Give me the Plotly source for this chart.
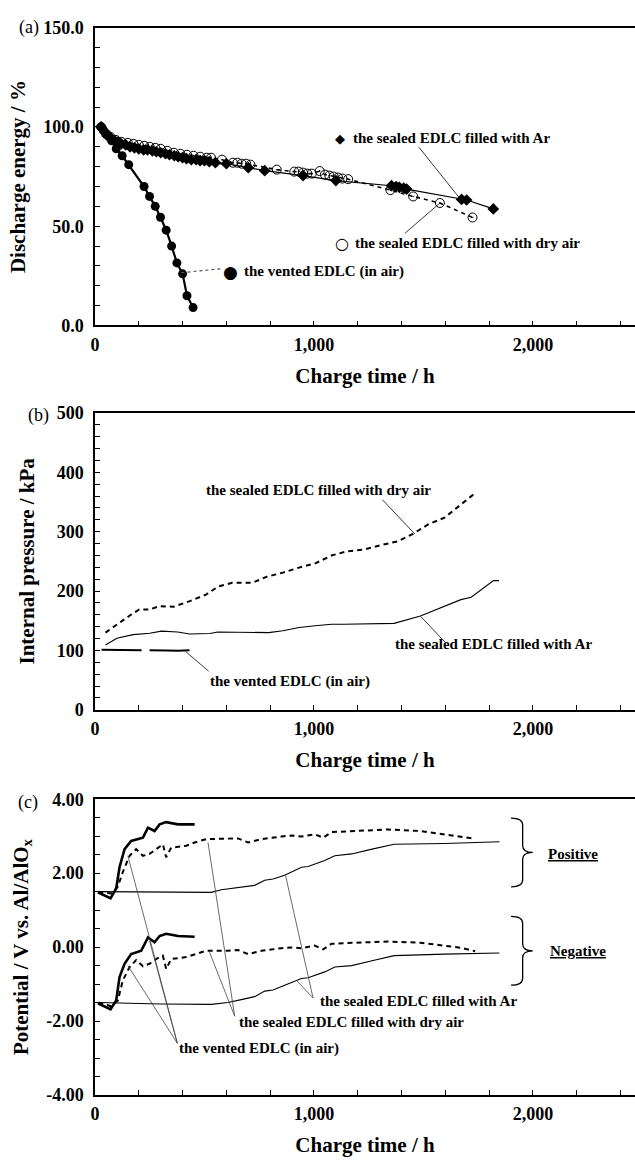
import plotly.graph_objects as go

FONT = "Liberation Serif"

# ---------------- Panel (a): discharge energy ----------------
a_vent_h = [28, 40, 52, 64, 76, 97, 124, 154, 224, 249, 275, 299, 325, 350, 374, 400, 420, 448]
a_vent_v = [100, 98, 96.5, 95, 93, 89, 85.5, 81, 70, 65, 60, 54.5, 48, 40, 31.5, 26, 15, 9]

a_ar_h = [28, 45, 60, 75, 90, 105, 120, 140, 160, 180, 200, 222, 240, 262, 280, 300, 322, 340, 362, 380,
          400, 418, 440, 462, 480, 500, 522, 550, 600, 700, 775, 950, 1100, 1354, 1375, 1390, 1410, 1423,
          1674, 1697, 1819]
a_ar_v = [100, 97.5, 95.5, 94, 93, 92.5, 91.5, 91, 90, 89.5, 89, 88.5, 88.5, 88, 87.5, 87, 86.5, 86, 85.5, 85,
          84.5, 84, 83.5, 83.5, 83, 83, 82.5, 82, 81.5, 79.5, 78, 75.5, 73, 70.4, 70, 69.6, 69.2, 68.7,
          63.5, 63.2, 58.7]

a_air_h = [28, 50, 70, 95, 120, 150, 175, 200, 225, 250, 275, 300, 330, 360, 390, 420, 450, 480, 510, 530,
           580, 630, 650, 670, 690, 710, 830, 910, 930, 950, 970, 990, 1026, 1050, 1070, 1090, 1110, 1130,
           1156, 1349, 1453, 1575, 1724]
a_air_v = [100, 96.5, 95, 93.5, 92.5, 92, 91.5, 91, 90.5, 90, 89.5, 89, 88, 87, 86.5, 86, 85.5, 85, 84.5, 84.5,
           83.5, 82, 82, 81.5, 81.5, 81, 78.5, 77.5, 77.5, 77, 76.5, 76.5, 77.8, 76, 75.5, 75, 74.5, 74,
           73.7, 68.2, 65, 61.7, 54.4]

# ---------------- Panel (b): internal pressure ----------------
b_vent_h = [30, 80, 130, 180, 230, 280, 330, 380, 420, 450]
b_vent_v = [101, 101, 100.5, 101, 100.5, 101, 100, 99.5, 100.5, 100.5]

b_ar_h = [48, 100, 174, 250, 303, 378, 432, 525, 560, 673, 793, 858, 932, 1006, 1080, 1135, 1366, 1486,
          1597, 1671, 1718, 1773, 1820, 1845]
b_ar_v = [109, 120.5, 126.5, 129, 132.5, 131, 127.5, 128.5, 131, 130.5, 130, 133, 138.5, 141.5, 144, 144,
          145.5, 158, 174.5, 185.5, 189.5, 205, 217.5, 217.5]

b_air_h = [48, 100, 156, 202, 250, 294, 359, 433, 507, 562, 627, 719, 784, 858, 932, 1006, 1080, 1153, 1228,
           1302, 1385, 1450, 1523, 1596, 1671, 1736]
b_air_v = [130, 144, 158, 169, 169, 174.5, 173.5, 183, 194, 207.5, 214, 214, 224, 231, 239.5, 246.5, 260,
           267, 270, 277, 284, 296, 312.5, 323.5, 346, 365]

# ---------------- Panel (c): electrode potentials ----------------
c_vent_pos_h = [13, 71, 97, 112, 135, 165, 219, 242, 272, 295, 325, 379, 455]
c_vent_pos_v = [1.48, 1.32, 1.59, 2.16, 2.65, 2.87, 2.96, 3.23, 3.14, 3.32, 3.38, 3.32, 3.32]
c_vent_neg_h = [13, 71, 97, 112, 135, 165, 211, 242, 272, 295, 325, 379, 455]
c_vent_neg_v = [-1.52, -1.68, -1.44, -0.81, -0.45, -0.19, -0.10, 0.26, 0.13, 0.30, 0.36, 0.30, 0.28]

c_air_pos_h = [15, 74, 104, 127, 158, 188, 219, 249, 280, 310, 325, 348, 417, 455, 508, 607, 653, 699, 760,
               851, 897, 942, 1003, 1042, 1080, 1190, 1339, 1486, 1597, 1671, 1736]
c_air_pos_v = [1.50, 1.45, 1.63, 2.03, 2.47, 2.65, 2.47, 2.52, 2.65, 2.78, 2.43, 2.69, 2.74, 2.83, 2.92, 2.92,
               2.94, 2.83, 2.92, 2.99, 3.02, 2.99, 3.05, 2.96, 3.11, 3.14, 3.18, 3.14, 3.05, 3.00, 2.93]
c_air_neg_h = [15, 74, 104, 127, 158, 188, 219, 249, 280, 310, 325, 348, 417, 455, 508, 607, 653, 699, 760,
               851, 897, 942, 1003, 1042, 1080, 1190, 1339, 1486, 1597, 1671, 1736]
c_air_neg_v = [-1.50, -1.60, -1.45, -0.90, -0.54, -0.35, -0.52, -0.45, -0.32, -0.23, -0.59, -0.32, -0.27,
               -0.19, -0.10, -0.10, -0.08, -0.19, -0.10, -0.03, -0.01, -0.03, 0.04, -0.06, 0.09, 0.12, 0.15,
               0.12, 0.04, -0.02, -0.11]

c_ar_pos_h = [13, 303, 531, 577, 668, 729, 775, 813, 866, 943, 973, 1049, 1095, 1172, 1265, 1366, 1597, 1847]
c_ar_pos_v = [1.50, 1.48, 1.48, 1.55, 1.63, 1.67, 1.81, 1.84, 1.94, 2.16, 2.18, 2.34, 2.47, 2.52, 2.65, 2.78,
              2.80, 2.85]
c_ar_neg_h = [13, 303, 531, 607, 668, 729, 775, 813, 866, 943, 973, 1049, 1095, 1172, 1265, 1366, 1597, 1847]
c_ar_neg_v = [-1.50, -1.54, -1.55, -1.50, -1.42, -1.34, -1.19, -1.16, -1.03, -0.85, -0.83, -0.67, -0.54, -0.50,
              -0.37, -0.23, -0.19, -0.16]

# tick labels
c_ytick_vals = [-4, -2, 0, 2, 4]
c_ytick_text = ["-4.00", "-2.00", "0.00", "2.00", "4.00"]

LBL_AR = "the sealed EDLC filled with Ar"
LBL_AIR = "the sealed EDLC filled with dry air"
LBL_VENT = "the vented EDLC (in air)"

K = "black"
fig = go.Figure()


def add(x, y, xa, ya, **kw):
    fig.add_trace(go.Scatter(x=x, y=y, xaxis=xa, yaxis=ya, showlegend=False, hoverinfo="skip", **kw))


# (a)
add(a_vent_h, a_vent_v, "x", "y", mode="lines+markers", line=dict(color=K, width=2.2),
    marker=dict(symbol="circle", size=9, color=K))
add(a_ar_h, a_ar_v, "x", "y", mode="lines+markers", line=dict(color=K, width=1.2),
    marker=dict(symbol="diamond", size=9, color=K))
add(a_air_h, a_air_v, "x", "y", mode="lines+markers", line=dict(color=K, width=1.6, dash="4px,4px"),
    marker=dict(symbol="circle-open-dot", size=9, color=K, line=dict(width=1, color=K)))

# (b)
add(b_vent_h, b_vent_v, "x2", "y2", mode="lines", line=dict(color=K, width=2, dash="40px,8px"))
add(b_ar_h, b_ar_v, "x2", "y2", mode="lines", line=dict(color=K, width=1.1))
add(b_air_h, b_air_v, "x2", "y2", mode="lines", line=dict(color=K, width=2, dash="5px,4px"))

# (c)
for hx, vy in [(c_vent_pos_h, c_vent_pos_v), (c_vent_neg_h, c_vent_neg_v)]:
    add(hx, vy, "x3", "y3", mode="lines", line=dict(color=K, width=2.6))
for hx, vy in [(c_air_pos_h, c_air_pos_v), (c_air_neg_h, c_air_neg_v)]:
    add(hx, vy, "x3", "y3", mode="lines", line=dict(color=K, width=2, dash="5px,4px"))
for hx, vy in [(c_ar_pos_h, c_ar_pos_v), (c_ar_neg_h, c_ar_neg_v)]:
    add(hx, vy, "x3", "y3", mode="lines", line=dict(color=K, width=1.1))

H = 1163.0
L = 95.0
PW = 635.0 - L


def dom(top_px, bot_px):
    return [1 - bot_px / H, 1 - top_px / H]


tick_font = dict(family=FONT, size=18, color=K, weight="bold")
title_font = dict(family=FONT, size=21, color=K, weight="bold")

xcommon = dict(range=[0, 2466], dtick=1000, tickformat=",d", showline=True, linecolor=K, linewidth=1.5,
               mirror=True, ticks="inside", ticklen=5, tickwidth=1.2, tickcolor=K, showgrid=False,
               zeroline=False, tickfont=tick_font, ticklabelstandoff=2,
               minor=dict(dtick=200, ticks="inside", ticklen=5, tickwidth=1.2, tickcolor=K, showgrid=False),
               title=dict(text="Charge time / h", font=title_font, standoff=14))
ycommon = dict(showline=True, linecolor=K, linewidth=1.5, mirror=False, ticks="inside", ticklen=5,
               tickwidth=1.2, tickcolor=K, showgrid=False, zeroline=False, tickfont=tick_font,
               ticklabelstandoff=6)

fig.update_layout(
    width=635, height=1163, margin=dict(l=L, r=0, t=0, b=0),
    paper_bgcolor="white", plot_bgcolor="white",
    font=dict(family=FONT, color=K),
    xaxis=dict(**xcommon, anchor="y"),
    xaxis2=dict(**xcommon, anchor="y2"),
    xaxis3=dict(**xcommon, anchor="y3"),
    yaxis=dict(**ycommon, domain=dom(18, 321), anchor="x", range=[0, 150], dtick=50, tickformat=".1f",
               minor=dict(dtick=10, ticks="inside", ticklen=5, tickwidth=1.2, tickcolor=K),
               title=dict(text="Discharge energy / %", font=title_font, standoff=12)),
    yaxis2=dict(**ycommon, domain=dom(410, 712), anchor="x2", range=[0, 500], dtick=100,
                minor=dict(dtick=20, ticks="inside", ticklen=5, tickwidth=1.2, tickcolor=K),
                title=dict(text="Internal pressure / kPa", font=title_font, standoff=16)),
    yaxis3=dict(**ycommon, domain=dom(803, 1104), anchor="x3", range=[-4, 4], tickvals=c_ytick_vals,
                ticktext=c_ytick_text,
                minor=dict(dtick=0.5, ticks="inside", ticklen=5, tickwidth=1.2, tickcolor=K),
                title=dict(text="Potential / V vs. Al/AlO<sub>x</sub>", font=title_font, standoff=12)),
)

ann_font = dict(family=FONT, size=15, color=K, weight="bold")
anns = []


def txt(x, y, s, xa, ya, xanchor="center", font=ann_font):
    anns.append(dict(x=x, y=y, xref=xa, yref=ya, text=s, showarrow=False, xanchor=xanchor,
                     yanchor="middle", font=font))


# panel labels
for lab, xl, ytop in [("(a)", 17, 18), ("(b)", 26, 413), ("(c)", 16, 806)]:
    anns.append(dict(x=(xl - L) / PW, y=1 - ytop / H, xref="paper", yref="paper",
                     text=lab, showarrow=False, xanchor="left", yanchor="middle",
                     font=dict(family=FONT, size=18, color=K)))

# (a) labels
txt(1118, 94.2, "◆", "x", "y", font=dict(family="DejaVu Sans", size=13, color=K))
txt(1168, 94.2, LBL_AR, "x", "y", xanchor="left")
txt(1127, 41.4, "○", "x", "y", font=dict(family="DejaVu Sans", size=16, color=K))
txt(1177, 41.4, LBL_AIR, "x", "y", xanchor="left")
txt(617, 27.1, "●", "x", "y", font=dict(family="DejaVu Sans", size=17, color=K))
txt(670, 27.1, LBL_VENT, "x", "y", xanchor="left")

# (b) labels
txt(1019, 371, LBL_AIR, "x2", "y2")
txt(1819, 111, LBL_AR, "x2", "y2")
txt(891, 48, LBL_VENT, "x2", "y2")

# (c) labels
txt(1479, -1.45, LBL_AR, "x3", "y3")
txt(1173, -2.02, LBL_AIR, "x3", "y3")
txt(750, -2.73, LBL_VENT, "x3", "y3")
txt(2185, 2.53, "<u>Positive</u>", "x3", "y3")
txt(2206, -0.10, "<u>Negative</u>", "x3", "y3")

fig.update_layout(annotations=anns)

shapes = []


def seg(x0, y0, x1, y1, xa, ya, color="#222", width=0.9, dash="solid"):
    shapes.append(dict(type="line", x0=x0, y0=y0, x1=x1, y1=y1, xref=xa, yref=ya,
                       line=dict(color=color, width=width, dash=dash)))


# (a) leaders
seg(1479, 89.8, 1664, 64.3, "x", "y")
seg(1415, 46.4, 1570, 61.2, "x", "y")
seg(395, 26.6, 578, 28.6, "x", "y", color="#555", width=1.2, dash="dot")
# (b) leaders
seg(1312, 354, 1461, 296, "x2", "y2")
seg(1598, 114, 1488, 157, "x2", "y2")
seg(519, 65, 414, 98, "x2", "y2")
# (c) leaders
for tx, ty in [(870, 1.94), (920, -0.90)]:
    seg(996, -1.38, tx, ty, "x3", "y3", color="#444", width=0.8)
for tx, ty in [(516, 2.83), (523, -0.14)]:
    seg(638, -1.87, tx, ty, "x3", "y3", color="#444", width=0.8)
for tx, ty in [(150, 2.47), (249, 0.17), (150, -0.50)]:
    seg(376, -2.60, tx, ty, "x3", "y3", color="#444", width=0.8)


def brace(xl, xm, xt, yc, half):
    r = 0.19
    top, bot = yc + half, yc - half
    return (f"M {xl},{top} Q {xm},{top} {xm},{top - r} L {xm},{yc + r} "
            f"Q {xm},{yc} {xt},{yc} Q {xm},{yc} {xm},{yc - r} L {xm},{bot + r} "
            f"Q {xm},{bot} {xl},{bot}")


for yc in (2.56, -0.10):
    shapes.append(dict(type="path", path=brace(1900, 1953, 1999, yc, 0.93), xref="x3", yref="y3",
                       line=dict(color=K, width=1.3)))

fig.update_layout(shapes=shapes)

fig.write_html("out.html", config={"displayModeBar": False},
               post_script="document.body.style.margin='0';document.body.style.overflow='hidden';")
